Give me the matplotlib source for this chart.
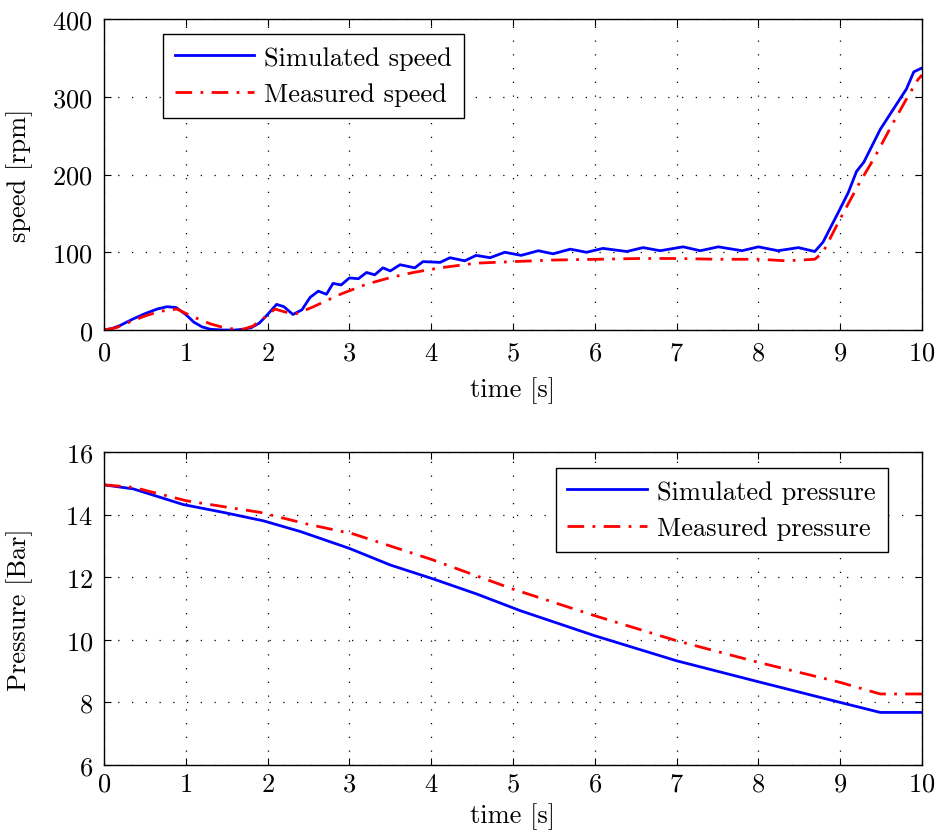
import matplotlib
matplotlib.use("Agg")
import matplotlib.pyplot as plt

# ---- data ----
t_sim_speed = [0.0, 0.1, 0.2, 0.35, 0.5, 0.65, 0.77, 0.88, 1.0, 1.1, 1.2, 1.3, 1.45, 1.6, 1.7, 1.8, 1.9,
               2.0, 2.11, 2.2, 2.31, 2.42, 2.52, 2.62, 2.72, 2.80, 2.90, 3.0, 3.11, 3.21, 3.31, 3.41, 3.5,
               3.62, 3.8, 3.90, 4.11, 4.23, 4.41, 4.55, 4.72, 4.90, 5.1, 5.31, 5.49, 5.70, 5.90, 6.10, 6.39,
               6.59, 6.80, 7.08, 7.29, 7.51, 7.80, 8.0, 8.24, 8.49, 8.69, 8.79, 9.0, 9.10, 9.20, 9.29, 9.49,
               9.65, 9.81, 9.90, 10.0]
sim_speed = [0, 2, 6, 14, 21, 27, 30, 29, 20, 10, 4, 1, 0, 0, 1, 3, 9,
             20, 33, 30, 20, 26, 42, 50, 46, 60, 58, 67, 66, 74, 71, 80, 76,
             84, 80, 88, 87, 93, 89, 96, 93, 100, 96, 102, 98, 104, 100, 105, 101,
             106, 102, 107, 102, 107, 102, 107, 102, 106, 101, 113, 156, 177, 204, 216, 258,
             284, 310, 332, 337]

t_meas_speed = [0.0, 0.15, 0.35, 0.5, 0.68, 0.89, 1.09, 1.30, 1.5, 1.7, 1.82, 1.95, 2.09, 2.22, 2.35, 2.54,
                2.89, 3.21, 3.52, 3.78, 4.11, 4.55, 5.0, 5.49, 6.02, 6.55, 7.0, 7.5, 8.02, 8.34, 8.69, 8.79,
                9.0, 9.24, 9.41, 9.65, 9.81, 9.95, 10.0]
meas_speed = [0, 3, 12, 18, 24, 27, 17, 8, 2, 1, 5, 15, 27, 23, 21, 29,
              46, 59, 68, 74, 80, 86, 88, 90, 91, 92, 92, 91, 91, 89, 91, 100,
              143, 190, 220, 267, 297, 322, 328]

t_sim_press = [0.0, 0.36, 0.97, 1.46, 1.95, 2.40, 3.0, 3.5, 4.03, 4.56, 5.09, 6.0, 7.0, 8.0, 9.0, 9.49, 10.0]
sim_press = [14.95, 14.82, 14.32, 14.07, 13.80, 13.46, 12.92, 12.39, 11.94, 11.46, 10.93, 10.13, 9.33,
             8.66, 8.0, 7.68, 7.68]

t_meas_press = [0.0, 0.36, 1.01, 1.91, 2.48, 3.05, 3.99, 5.0, 6.0, 7.0, 8.0, 9.0, 9.49, 10.0]
meas_press = [14.95, 14.87, 14.44, 14.07, 13.70, 13.38, 12.58, 11.62, 10.77, 9.97, 9.28, 8.64, 8.27, 8.27]

plt.rcParams['font.family'] = ['cmr10', 'DejaVu Serif']
plt.rcParams['axes.unicode_minus'] = False
plt.rcParams['axes.formatter.use_mathtext'] = True
plt.rcParams['mathtext.fontset'] = 'cm'

FS = 19
fig = plt.figure(figsize=(9.36, 8.37), dpi=100)
ax1 = fig.add_axes([0.1111, 0.6045, 0.8739, 0.3716])
ax2 = fig.add_axes([0.1111, 0.0848, 0.8739, 0.3740])

dashdot = (0, (6, 3, 1, 3))

def style(ax, xpad):
    ax.grid(True, linestyle=(0, (1, 10)), color='black', linewidth=0.9)
    ax.tick_params(direction='in', top=True, right=True, labelsize=FS, length=5, width=0.8, pad=8)
    ax.tick_params(axis='x', pad=xpad)
    for s in ax.spines.values():
        s.set_linewidth(1.0)
    ax.set_xlim(0, 10)
    ax.set_xticks(range(0, 11))

leg_kw = dict(fontsize=FS, fancybox=False, edgecolor='black', framealpha=1, handlelength=3.0,
              borderpad=0.45, labelspacing=0.5, handletextpad=0.4, borderaxespad=0)

ax1.plot(t_sim_speed, sim_speed, color='#0000ff', lw=2.0, label='Simulated speed')
ax1.plot(t_meas_speed, meas_speed, color='#ff0000', lw=2.0, linestyle=dashdot, label='Measured speed')
style(ax1, 8)
ax1.set_ylim(0, 400)
ax1.set_yticks([0, 100, 200, 300, 400])
ax1.set_xlabel('time [s]', fontsize=FS, labelpad=8)
ax1.set_ylabel('speed [rpm]', fontsize=FS)
ax1.yaxis.set_label_coords(-0.087, 0.5)
leg1 = ax1.legend(loc='upper left', bbox_to_anchor=(0.072, 0.952), **leg_kw)
leg1.get_frame().set_linewidth(1.0)

ax2.plot(t_sim_press, sim_press, color='#0000ff', lw=2.0, label='Simulated pressure')
ax2.plot(t_meas_press, meas_press, color='#ff0000', lw=2.0, linestyle=dashdot, label='Measured pressure')
style(ax2, 5)
ax2.set_ylim(6, 16)
ax2.set_yticks([6, 8, 10, 12, 14, 16])
ax2.set_xlabel('time [s]', fontsize=FS, labelpad=5)
ax2.set_ylabel('Pressure [Bar]', fontsize=FS)
ax2.yaxis.set_label_coords(-0.087, 0.5)
leg2 = ax2.legend(loc='upper right', bbox_to_anchor=(0.958, 0.949), **leg_kw)
leg2.get_frame().set_linewidth(1.0)

fig.savefig('out.png', dpi=100)
